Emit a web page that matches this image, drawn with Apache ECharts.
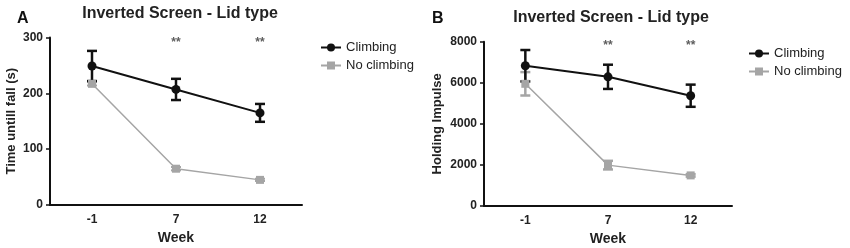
<!DOCTYPE html>
<html>
<head>
<meta charset="utf-8">
<script src="https://cdn.jsdelivr.net/npm/echarts@6/dist/echarts.min.js"></script>
<style>
  html, body { margin: 0; padding: 0; background: #fff; }
  #main { width: 850px; height: 248px; }
</style>
</head>
<body>
<div id="main"></div>
<script>
var weeks = ['-1', '7', '12'];

// panel A: time until fall (s)
var climbA = [249, 207, 165];
var climbErrA = [27, 19, 16];
var noClimbA = [217, 65, 45];
var noClimbErrA = [3, 3, 2];
var starsA = [null, 290, 290];

// panel B: holding impulse
var climbB = [6830, 6290, 5370];
var climbErrB = [765, 590, 540];
var noClimbB = [5950, 1990, 1490];
var noClimbErrB = [570, 210, 60];
var starsB = [null, 7820, 7820];

var black = '#111111';
var grey = '#a5a5a5';
var font = 'Liberation Sans, Arial, sans-serif';

function errData(vals, errs) {
  return vals.map(function (v, i) { return [i, v - errs[i], v + errs[i]]; });
}

function errorBars(idx, vals, errs, color, width) {
  return {
    type: 'custom',
    xAxisIndex: idx,
    yAxisIndex: idx,
    silent: true,
    z: 1,
    data: errData(vals, errs),
    renderItem: function (params, api) {
      var lo = api.coord([api.value(0), api.value(1)]);
      var hi = api.coord([api.value(0), api.value(2)]);
      var w = 5;
      var st = { stroke: color, lineWidth: width };
      return {
        type: 'group',
        children: [
          { type: 'line', shape: { x1: hi[0], y1: hi[1], x2: lo[0], y2: lo[1] }, style: st },
          { type: 'line', shape: { x1: hi[0] - w, y1: hi[1], x2: hi[0] + w, y2: hi[1] }, style: st },
          { type: 'line', shape: { x1: lo[0] - w, y1: lo[1], x2: lo[0] + w, y2: lo[1] }, style: st }
        ]
      };
    }
  };
}

function starSeries(idx, vals) {
  return {
    type: 'scatter',
    xAxisIndex: idx,
    yAxisIndex: idx,
    symbolSize: 0,
    silent: true,
    data: vals,
    label: {
      show: true,
      position: 'inside',
      formatter: '**',
      color: '#333',
      fontSize: 12,
      fontWeight: 'bold',
      fontFamily: font
    }
  };
}

function lineSeries(idx, name, vals, color, symbol, size, lw) {
  return {
    name: name,
    type: 'line',
    xAxisIndex: idx,
    yAxisIndex: idx,
    data: vals,
    symbol: symbol,
    symbolSize: size,
    z: 3,
    lineStyle: { color: color, width: lw },
    itemStyle: { color: color }
  };
}

function xAxis(idx) {
  return {
    type: 'category',
    gridIndex: idx,
    data: weeks,
    boundaryGap: true,
    name: 'Week',
    nameLocation: 'middle',
    nameGap: 26,
    nameTextStyle: { color: '#222', fontSize: 14, fontWeight: 'bold', fontFamily: font },
    axisLine: { lineStyle: { color: '#111', width: 2 } },
    axisTick: { alignWithLabel: true, length: 4, lineStyle: { color: '#111', width: 1.5 } },
    axisLabel: { color: '#222', fontSize: 12, fontWeight: 'bold', fontFamily: font, margin: 9 },
    splitLine: { show: false }
  };
}

function yAxis(idx, name, max, interval, gap) {
  return {
    type: 'value',
    gridIndex: idx,
    min: 0,
    max: max,
    interval: interval,
    name: name,
    nameLocation: 'middle',
    nameGap: gap,
    nameTextStyle: { color: '#222', fontSize: 13, fontWeight: 'bold', fontFamily: font },
    axisLine: { show: true, lineStyle: { color: '#111', width: 2 } },
    axisTick: { show: true, length: 4, lineStyle: { color: '#111', width: 1.5 } },
    axisLabel: { color: '#222', fontSize: 12, fontWeight: 'bold', fontFamily: font, margin: 7,
      formatter: function (v) { return String(v); } },
    splitLine: { show: false }
  };
}

var chart = echarts.init(document.getElementById('main'), null, { renderer: 'canvas' });

chart.setOption({
  animation: false,
  backgroundColor: '#fff',
  title: [
    { text: 'A', left: 12, top: 6, textStyle: { fontSize: 16, fontWeight: 'bold', color: '#111', fontFamily: font } },
    { text: 'Inverted Screen - Lid type', left: 175, top: 1, textAlign: 'center',
      textStyle: { fontSize: 16, fontWeight: 'bold', color: '#222', fontFamily: font } },
    { text: 'B', left: 427, top: 6, textStyle: { fontSize: 16, fontWeight: 'bold', color: '#111', fontFamily: font } },
    { text: 'Inverted Screen - Lid type', left: 606, top: 5, textAlign: 'center',
      textStyle: { fontSize: 16, fontWeight: 'bold', color: '#222', fontFamily: font } }
  ],
  legend: [
    {
      left: 318, top: 39, orient: 'vertical', itemWidth: 20, itemHeight: 10, itemGap: 5, padding: 2,
      data: ['Climbing', 'No climbing'],
      textStyle: { fontSize: 13, color: '#222', fontFamily: font }
    },
    {
      left: 746, top: 45, orient: 'vertical', itemWidth: 20, itemHeight: 10, itemGap: 5, padding: 2,
      data: ['Climbing ', 'No climbing '],
      textStyle: { fontSize: 13, color: '#222', fontFamily: font }
    }
  ],
  grid: [
    { left: 50, right: 548, top: 37.5, bottom: 43, outerBoundsMode: 'none' },
    { left: 484, right: 118, top: 41.7, bottom: 42, outerBoundsMode: 'none' }
  ],
  xAxis: [xAxis(0), xAxis(1)],
  yAxis: [
    yAxis(0, 'Time untill fall (s)', 300, 100, 32),
    yAxis(1, 'Holding Impulse', 8000, 2000, 40)
  ],
  series: [
    errorBars(0, noClimbA, noClimbErrA, grey, 2),
    errorBars(0, climbA, climbErrA, black, 2.5),
    lineSeries(0, 'No climbing', noClimbA, grey, 'rect', 8, 1.5),
    lineSeries(0, 'Climbing', climbA, black, 'circle', 9, 2),
    starSeries(0, starsA),
    errorBars(1, noClimbB, noClimbErrB, grey, 2.5),
    errorBars(1, climbB, climbErrB, black, 2.5),
    lineSeries(1, 'No climbing ', noClimbB, grey, 'rect', 8, 1.5),
    lineSeries(1, 'Climbing ', climbB, black, 'circle', 9, 2),
    starSeries(1, starsB)
  ]
});
</script>
</body>
</html>
